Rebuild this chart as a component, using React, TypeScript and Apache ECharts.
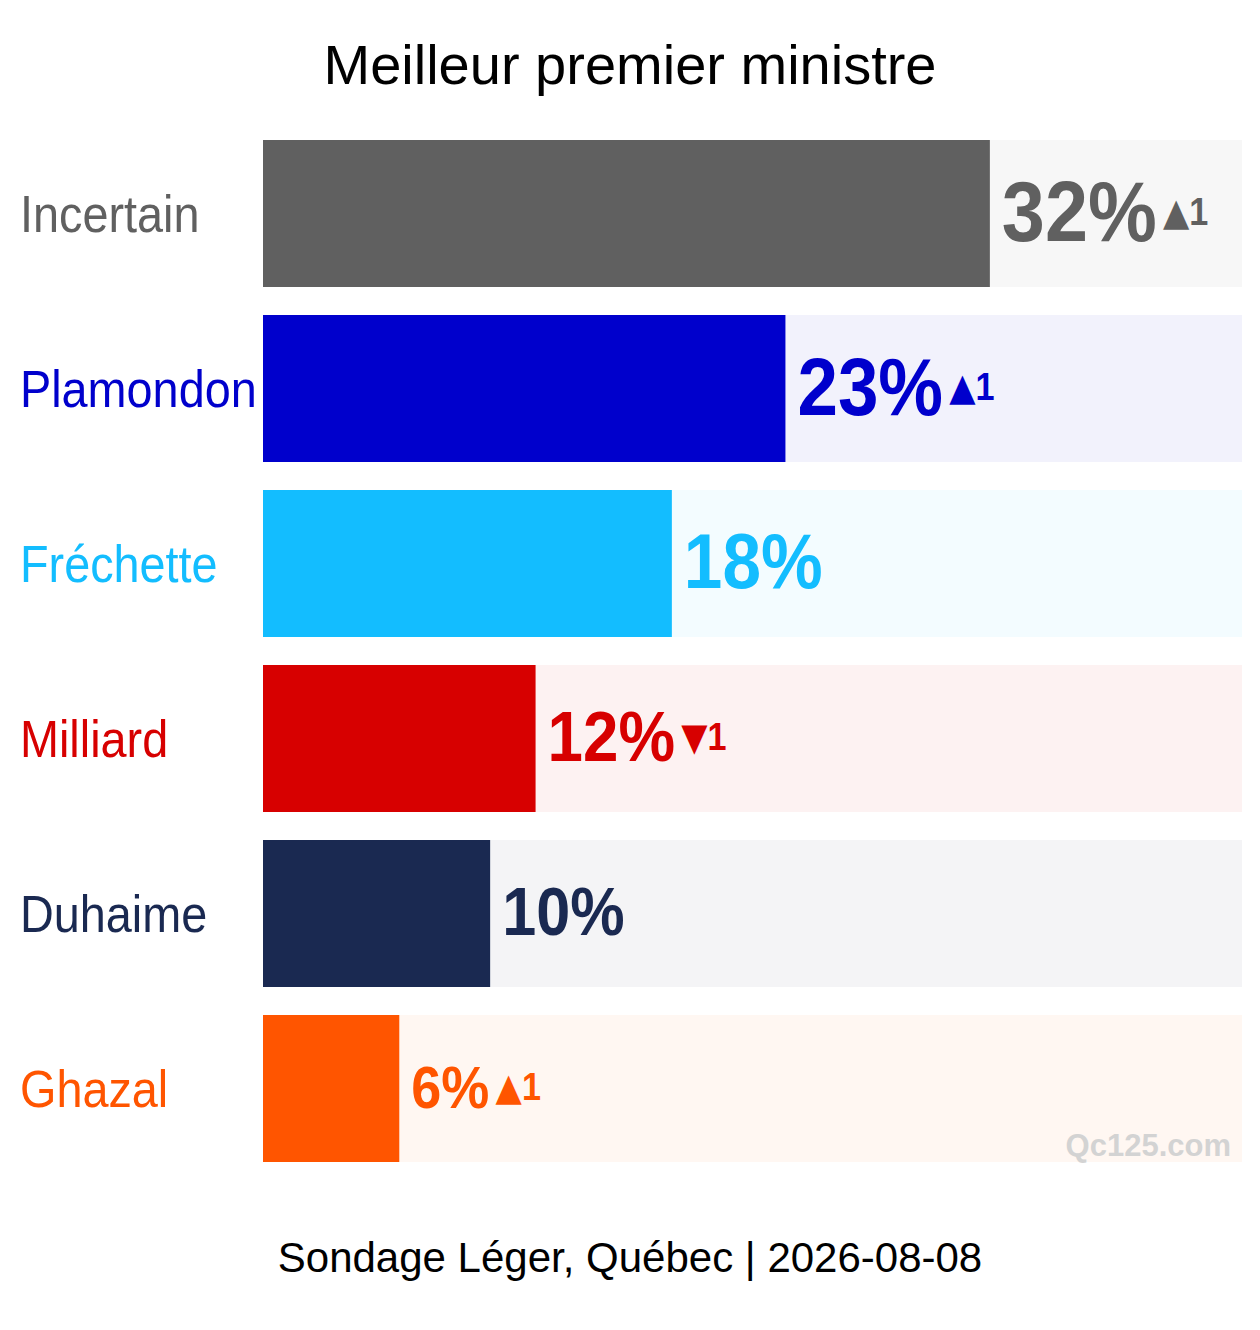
import React, { useEffect, useRef } from "react";
import * as echarts from "echarts";

const categories = ["Incertain", "Plamondon", "Fréchette", "Milliard", "Duhaime", "Ghazal"];
const values = [32, 23, 18, 12, 10, 6];
const deltas = [1, 1, 0, -1, 0, 1];
const colors = ["#606060", "#0000CC", "#13BDFF", "#D70000", "#1A2951", "#FF5500"];
const xMax = 43.1;
const titleText = "Meilleur premier ministre";
const footerText = "Sondage Léger, Québec | 2026-08-08";
const watermarkText = "Qc125.com";

const FONT = "'Liberation Sans', Arial, Helvetica, sans-serif";

function tint(hex: string, a: number): string {
  const n = parseInt(hex.slice(1), 16);
  const r = (n >> 16) & 255;
  const g = (n >> 8) & 255;
  const b = n & 255;
  const mix = (c: number) => Math.round(255 - a * (255 - c));
  return `rgb(${mix(r)},${mix(g)},${mix(b)})`;
}

function valueFont(v: number): number {
  return 60 + 15.5 * Math.log(v / 6);
}

export default function App() {
  const ref = useRef<HTMLDivElement>(null);

  useEffect(() => {
    document.body.style.margin = "0";
    if (!ref.current) return;
    const chart = echarts.init(ref.current, undefined, { renderer: "svg" });

    const option: any = {
      animation: false,
      backgroundColor: "#ffffff",
      title: {
        text: titleText,
        left: "center",
        top: 36,
        padding: 0,
        textStyle: {
          fontSize: 56,
          fontWeight: "normal",
          color: "#000000",
          fontFamily: FONT,
        },
      },
      grid: { left: 263, right: 18, top: 126, bottom: 154, containLabel: false },
      xAxis: {
        type: "value",
        min: 0,
        max: xMax,
        show: false,
      },
      yAxis: {
        type: "category",
        data: categories,
        inverse: true,
        show: false,
      },
      graphic: [
        {
          type: "text",
          x: 630,
          y: 1257,
          z: 100,
          style: {
            text: footerText,
            fontSize: 42,
            fontFamily: FONT,
            fill: "#000000",
            textAlign: "center",
            textVerticalAlign: "middle",
          },
        },
        {
          type: "text",
          x: 1231,
          y: 1145,
          z: 100,
          style: {
            text: watermarkText,
            fontSize: 31,
            fontWeight: "bold",
            fontFamily: FONT,
            fill: "#d3d3d3",
            textAlign: "right",
            textVerticalAlign: "middle",
          },
        },
      ],
      series: [
        {
          type: "bar",
          silent: true,
          barWidth: 147,
          barGap: "-100%",
          z: 1,
          data: categories.map((_, i) => ({
            value: xMax,
            itemStyle: { color: tint(colors[i], 0.05) },
          })),
        },
        {
          type: "bar",
          barWidth: 147,
          barGap: "-100%",
          z: 2,
          data: values.map((v, i) => ({
            value: v,
            itemStyle: { color: colors[i] },
          })),
        },
        {
          type: "custom",
          z: 5,
          clip: false,
          data: values.map((v, i) => [v, i]),
          renderItem: (params: any, api: any) => {
            const v = api.value(0);
            const i = api.value(1);
            const p = api.coord([v, i]);
            const p0 = api.coord([0, i]);
            const fs = valueFont(v);
            const dfs = 38;
            const d = deltas[i];
            const color = colors[i];
            let txt = `{v|${v}%}`;
            if (d) {
              txt += `{t|${d > 0 ? "▲" : "▼"}}{d|${Math.abs(d)}}`;
            }
            return {
              type: "group",
              children: [
                {
                  type: "text",
                  x: p0[0] - 243,
                  y: p[1],
                  scaleX: 0.9,
                  style: {
                    text: categories[i],
                    x: 0,
                    y: 0,
                    fontSize: 52,
                    fontFamily: FONT,
                    fill: color,
                    align: "left",
                    verticalAlign: "middle",
                  },
                },
                {
                  type: "text",
                  x: p[0] + 12,
                  y: p[1] - 2,
                  scaleX: 0.9,
                  style: {
                    text: txt,
                    x: 0,
                    y: 0,
                    fill: color,
                    align: "left",
                    verticalAlign: "middle",
                    rich: {
                      v: {
                        fontSize: fs,
                        fontWeight: "bold",
                        fontFamily: FONT,
                        fill: color,
                        verticalAlign: "middle",
                      },
                      t: {
                        fontSize: dfs,
                        fontFamily: "'DejaVu Sans', sans-serif",
                        fill: color,
                        verticalAlign: "middle",
                        padding: [0, 0, 0, 7],
                      },
                      d: {
                        fontSize: dfs,
                        fontWeight: "bold",
                        fontFamily: FONT,
                        fill: color,
                        verticalAlign: "middle",
                      },
                    },
                  },
                },
              ],
            };
          },
        },
      ],
    };

    chart.setOption(option);
    return () => {
      chart.dispose();
    };
  }, []);

  return <div ref={ref} style={{ width: 1260, height: 1330 }} />;
}
